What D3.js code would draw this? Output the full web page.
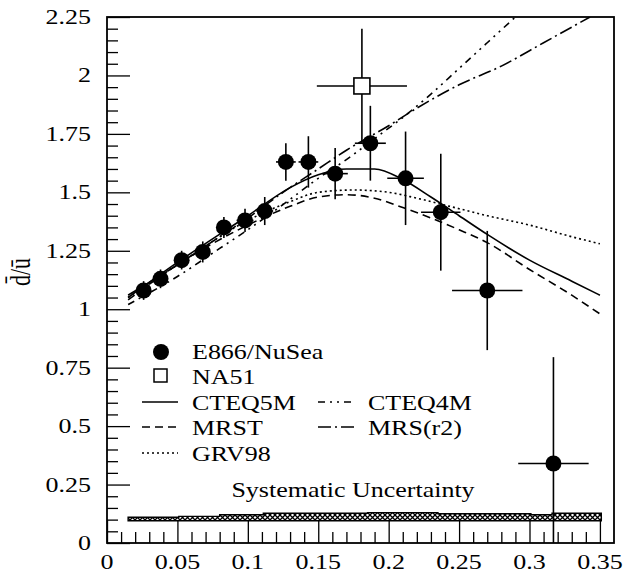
<!DOCTYPE html>
<html>
<head>
<meta charset="utf-8">
<script src="https://cdn.jsdelivr.net/npm/d3@7"></script>
<style>
  body { margin: 0; background: #fff; }
  svg text { font-family: "Liberation Serif", "Times New Roman", serif; fill: #000; }
</style>
</head>
<body>
<svg id="chart" width="623" height="581"></svg>
<script>
// E866/NuSea points
const e866X = [0.026, 0.038, 0.053, 0.068, 0.083, 0.098, 0.112, 0.127, 0.143, 0.162, 0.187, 0.212, 0.237, 0.270, 0.317];
const e866Y = [1.08, 1.13, 1.21, 1.245, 1.35, 1.38, 1.42, 1.63, 1.63, 1.58, 1.71, 1.56, 1.415, 1.08, 0.34];
const e866YErr = [0.04, 0.04, 0.04, 0.045, 0.045, 0.05, 0.06, 0.08, 0.11, 0.11, 0.16, 0.2, 0.25, 0.255, 0.455];
const e866XErr = [0.005, 0.005, 0.005, 0.005, 0.005, 0.006, 0.006, 0.007, 0.007, 0.009, 0.011, 0.013, 0.014, 0.025, 0.025];

// NA51 point
const na51X = [0.181];
const na51Y = [1.955];
const na51YErr = [0.245];
const na51XErr = [0.032];

// parametrisations
const cteq5mX = [0.015, 0.05, 0.10, 0.13, 0.15, 0.17, 0.19, 0.21, 0.23, 0.25, 0.27, 0.30, 0.33, 0.35];
const cteq5mY = [1.05, 1.20, 1.40, 1.52, 1.575, 1.60, 1.60, 1.555, 1.48, 1.40, 1.32, 1.21, 1.12, 1.06];
const mrstX = [0.015, 0.05, 0.10, 0.13, 0.15, 0.17, 0.19, 0.21, 0.23, 0.25, 0.27, 0.30, 0.33, 0.35];
const mrstY = [1.04, 1.19, 1.36, 1.44, 1.48, 1.49, 1.475, 1.435, 1.39, 1.34, 1.285, 1.17, 1.06, 0.98];
const grv98X = [0.015, 0.05, 0.10, 0.13, 0.15, 0.175, 0.20, 0.22, 0.25, 0.27, 0.30, 0.33, 0.35];
const grv98Y = [1.05, 1.19, 1.38, 1.46, 1.50, 1.51, 1.50, 1.475, 1.43, 1.40, 1.36, 1.31, 1.28];
const cteq4mX = [0.015, 0.05, 0.08, 0.10, 0.13, 0.15, 0.17, 0.19, 0.21, 0.23, 0.25, 0.27, 0.29];
const cteq4mY = [1.02, 1.14, 1.26, 1.34, 1.47, 1.56, 1.64, 1.73, 1.82, 1.92, 2.03, 2.14, 2.25];
const mrsr2X = [0.015, 0.05, 0.075, 0.10, 0.125, 0.15, 0.17, 0.20, 0.22, 0.25, 0.28, 0.31, 0.343];
const mrsr2Y = [1.06, 1.19, 1.29, 1.39, 1.50, 1.60, 1.68, 1.785, 1.86, 1.96, 2.04, 2.14, 2.25];

// systematic uncertainty band (bin edges and tops)
const sysEdges = [0.015, 0.051, 0.080, 0.111, 0.185, 0.235, 0.301, 0.316, 0.351];
const sysTop = [0.110, 0.114, 0.121, 0.127, 0.130, 0.125, 0.121, 0.127];
const sysBottom = 0.095;

const xTicks = [0, 0.05, 0.1, 0.15, 0.2, 0.25, 0.3, 0.35];
const yTicks = [0, 0.25, 0.5, 0.75, 1, 1.25, 1.5, 1.75, 2, 2.25];
const xTickLabels = ['0', '0.05', '0.1', '0.15', '0.2', '0.25', '0.3', '0.35'];
const yTickLabels = ['0', '0.25', '0.5', '0.75', '1', '1.25', '1.5', '1.75', '2', '2.25'];

const STRETCH = 1.3;
const FRAME = { left: 107, right: 614, top: 17, bottom: 543 };

const $svg = d3.select('#chart');

const xScale = d3.scaleLinear().domain([0, 0.36]).range([FRAME.left, FRAME.right]);
const yScale = d3.scaleLinear().domain([0, 2.25]).range([FRAME.bottom, FRAME.top]);

// text is drawn horizontally stretched like the scanned figure
function label(g, x, y, txt, anchor, size) {
    return g.append('text')
        .attr('transform', `translate(${x},${y}) scale(${STRETCH},1)`)
        .attr('text-anchor', anchor || 'start')
        .attr('font-size', size || 20)
        .text(txt);
}

const defs = $svg.append('defs');
defs.append('clipPath').attr('id', 'plot-clip')
    .append('rect')
    .attr('x', FRAME.left).attr('y', FRAME.top)
    .attr('width', FRAME.right - FRAME.left).attr('height', FRAME.bottom - FRAME.top);

const hatch = defs.append('pattern')
    .attr('id', 'hatch')
    .attr('patternUnits', 'userSpaceOnUse')
    .attr('width', 5).attr('height', 5);
hatch.append('rect').attr('width', 5).attr('height', 5).attr('fill', '#fff');
hatch.append('path').attr('d', 'M0,0 L5,5 M5,0 L0,5').attr('stroke', '#000').attr('stroke-width', 1.3);

// axes with inward ticks
const gAxes = $svg.append('g');

const yAxis = d3.axisRight(yScale)
    .tickValues(d3.range(0, 2.2501, 0.05))
    .tickSize(11)
    .tickFormat('');
gAxes.append('g')
    .attr('transform', `translate(${FRAME.left},0)`)
    .call(yAxis)
    .call(g => g.select('.domain').remove())
    .call(g => g.selectAll('.tick line')
        .attr('stroke-width', 1.3)
        .attr('x2', d => yTicks.some(t => Math.abs(t - d) < 1e-6) ? 23 : 11));

const xAxis = d3.axisTop(xScale)
    .tickValues(d3.range(0, 0.3501, 0.01))
    .tickSize(11)
    .tickFormat('');
gAxes.append('g')
    .attr('transform', `translate(0,${FRAME.bottom})`)
    .call(xAxis)
    .call(g => g.select('.domain').remove())
    .call(g => g.selectAll('.tick line')
        .attr('stroke-width', 1.3)
        .attr('y2', d => xTicks.some(t => Math.abs(t - d) < 1e-6) ? -23 : -11));

yTicks.forEach((t, i) => label(gAxes, 91, yScale(t) + 7, yTickLabels[i], 'end'));
xTicks.forEach((t, i) => label(gAxes, xScale(t), FRAME.bottom + 26, xTickLabels[i], 'middle'));

$svg.append('text')
    .attr('transform', `translate(30,272) scale(${STRETCH},1) rotate(-90)`)
    .attr('text-anchor', 'middle')
    .attr('font-size', 22)
    .text('d\u0304/\u016b');

// systematic band
const gPlot = $svg.append('g').attr('clip-path', 'url(#plot-clip)');
const sysArea = d3.area()
    .curve(d3.curveStepAfter)
    .x(d => xScale(d[0]))
    .y0(yScale(sysBottom))
    .y1(d => yScale(d[1]));
const sysData = sysEdges.map((e, i) => [e, sysTop[Math.min(i, sysTop.length - 1)]]);
gPlot.append('path')
    .datum(sysData)
    .attr('d', sysArea)
    .attr('fill', 'url(#hatch)')
    .attr('stroke', '#000')
    .attr('stroke-width', 1.4);

label($svg, 353, 497, 'Systematic Uncertainty', 'middle', 20);

// curves
const line = d3.line().curve(d3.curveMonotoneX).x(d => xScale(d[0])).y(d => yScale(d[1]));
const curves = [
    { name: 'CTEQ5M', xs: cteq5mX, ys: cteq5mY, dash: null },
    { name: 'MRST', xs: mrstX, ys: mrstY, dash: '8,5' },
    { name: 'GRV98', xs: grv98X, ys: grv98Y, dash: '2,3' },
    { name: 'CTEQ4M', xs: cteq4mX, ys: cteq4mY, dash: '7,5,2,5,2,5' },
    { name: 'MRS(r2)', xs: mrsr2X, ys: mrsr2Y, dash: '13,4,2,4' }
];
curves.forEach(c => {
    gPlot.append('path')
        .datum(c.xs.map((x, i) => [x, c.ys[i]]))
        .attr('d', line)
        .attr('fill', 'none')
        .attr('stroke', '#000')
        .attr('stroke-width', 1.6)
        .attr('stroke-dasharray', c.dash);
});

// error bars + markers
function errorBars(xs, ys, xe, ye) {
    const g = gPlot.append('g').attr('stroke', '#000').attr('stroke-width', 1.6);
    xs.forEach((x, i) => {
        g.append('line')
            .attr('x1', xScale(x)).attr('x2', xScale(x))
            .attr('y1', yScale(ys[i] - ye[i])).attr('y2', yScale(ys[i] + ye[i]));
        g.append('line')
            .attr('x1', xScale(x - xe[i])).attr('x2', xScale(x + xe[i]))
            .attr('y1', yScale(ys[i])).attr('y2', yScale(ys[i]));
    });
}
errorBars(e866X, e866Y, e866XErr, e866YErr);
errorBars(na51X, na51Y, na51XErr, na51YErr);

gPlot.append('g').selectAll('circle')
    .data(e866X)
    .join('circle')
    .attr('cx', d => xScale(d))
    .attr('cy', (d, i) => yScale(e866Y[i]))
    .attr('r', 8)
    .attr('fill', '#000');

gPlot.append('g').selectAll('rect')
    .data(na51X)
    .join('rect')
    .attr('x', d => xScale(d) - 8)
    .attr('y', (d, i) => yScale(na51Y[i]) - 8)
    .attr('width', 16).attr('height', 16)
    .attr('fill', '#fff')
    .attr('stroke', '#000')
    .attr('stroke-width', 1.6);

// legend
const gLegend = $svg.append('g');
gLegend.append('circle').attr('cx', 161).attr('cy', 352).attr('r', 8).attr('fill', '#000');
label(gLegend, 192, 359, 'E866/NuSea');
gLegend.append('rect').attr('x', 154).attr('y', 369).attr('width', 13).attr('height', 13)
    .attr('fill', '#fff').attr('stroke', '#000').attr('stroke-width', 1.5);
label(gLegend, 192, 384, 'NA51');

const legendRows = [
    { c: curves[0], x: 142, y: 402, tx: 192 },
    { c: curves[1], x: 142, y: 427, tx: 192 },
    { c: curves[2], x: 142, y: 453, tx: 192 },
    { c: curves[3], x: 318, y: 402, tx: 368 },
    { c: curves[4], x: 318, y: 427, tx: 368 }
];
legendRows.forEach(r => {
    gLegend.append('line')
        .attr('x1', r.x).attr('x2', r.x + 36)
        .attr('y1', r.y).attr('y2', r.y)
        .attr('stroke', '#000').attr('stroke-width', 1.5)
        .attr('stroke-dasharray', r.c.dash);
    label(gLegend, r.tx, r.y + 8, r.c.name);
});

// frame
$svg.append('rect')
    .attr('x', FRAME.left).attr('y', FRAME.top)
    .attr('width', FRAME.right - FRAME.left).attr('height', FRAME.bottom - FRAME.top)
    .attr('fill', 'none').attr('stroke', '#000').attr('stroke-width', 1.8);
</script>
</body>
</html>
